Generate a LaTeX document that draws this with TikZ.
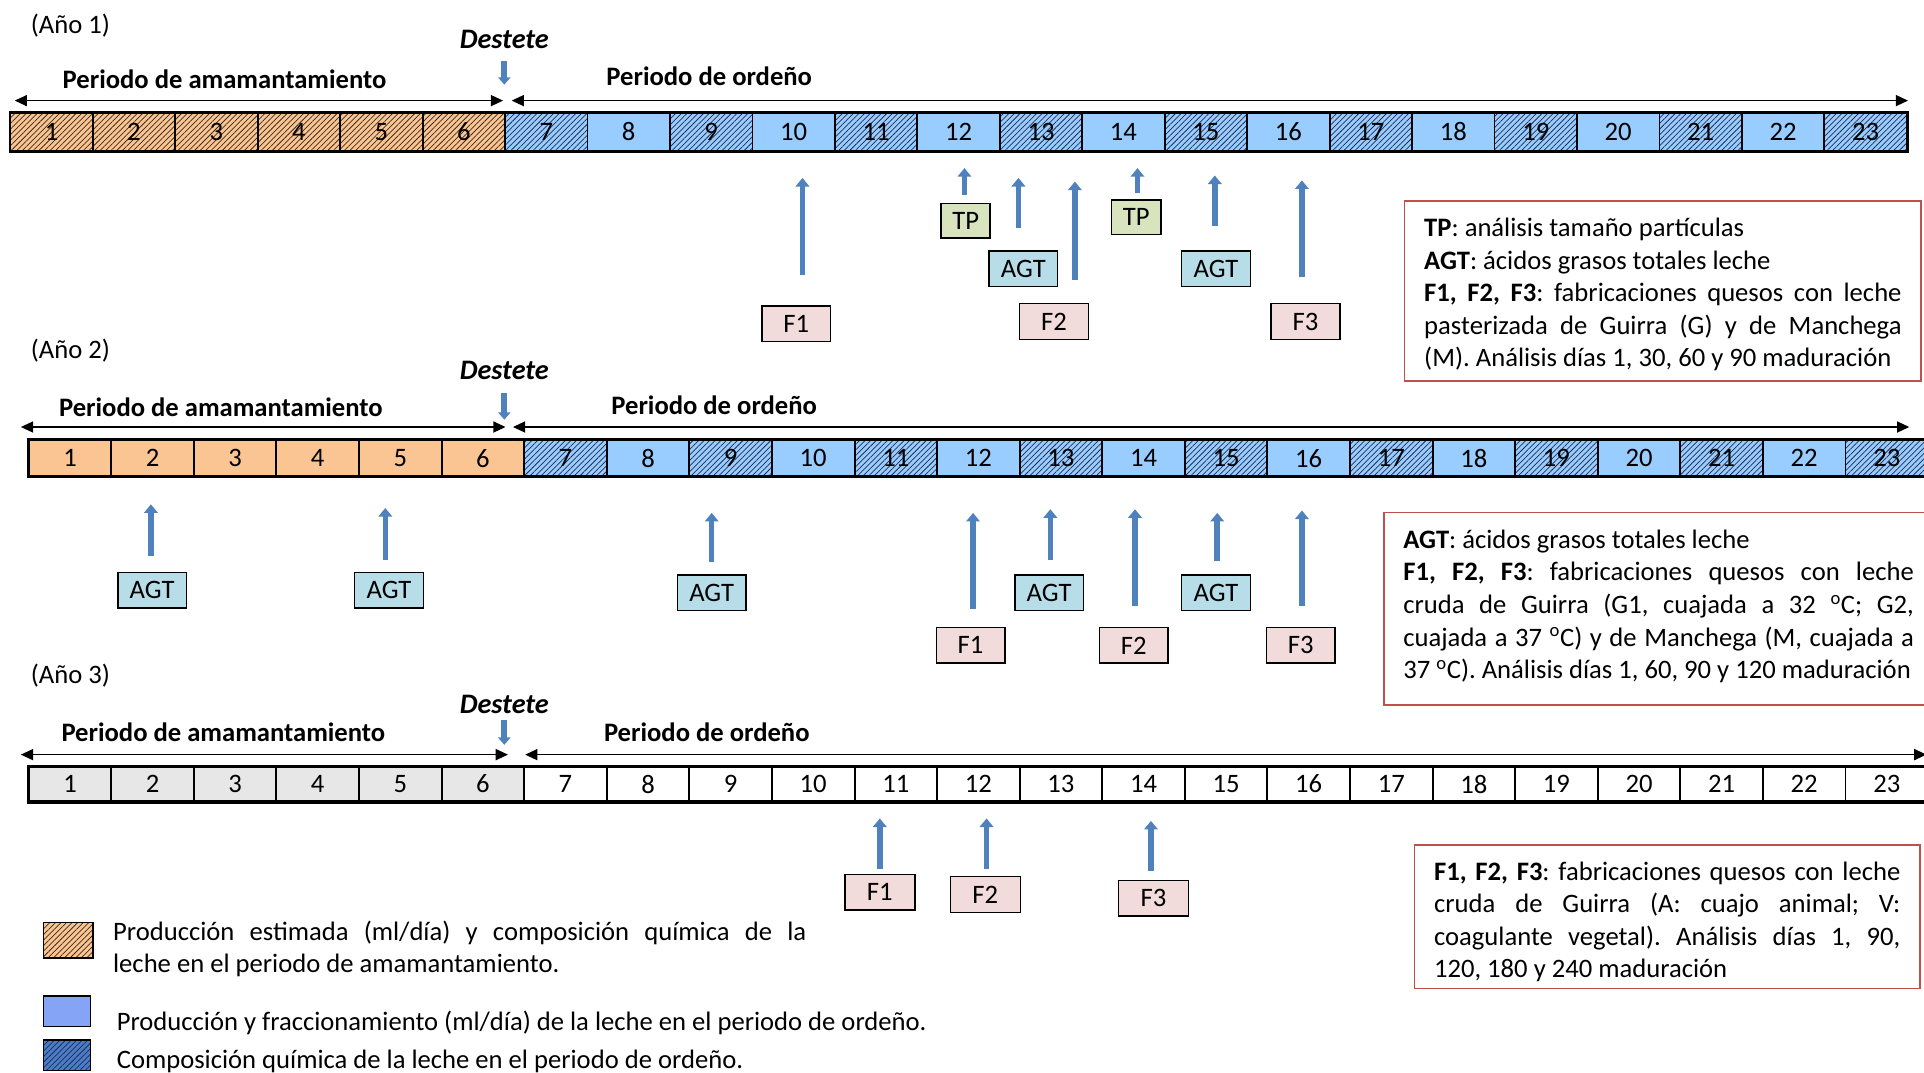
\documentclass[tikz,border=0pt]{standalone}
\usepackage{fontspec}
\setmainfont{Carlito}
\usetikzlibrary{arrows.meta,patterns.meta}
\setlength{\parindent}{0pt}
\frenchspacing
\definecolor{orangec}{HTML}{FAC592}
\definecolor{bluec}{HTML}{99CCFF}
\definecolor{hatchc}{HTML}{1F2D4F}
\definecolor{hatcho}{HTML}{3A2A1C}
\definecolor{greyc}{HTML}{E7E7E7}
\definecolor{arrowblue}{HTML}{4F81BD}
\definecolor{tpfill}{HTML}{D7E4BD}
\definecolor{agtfill}{HTML}{B7DEE8}
\definecolor{ffill}{HTML}{F2DCDB}
\definecolor{legred}{HTML}{C0504D}
\definecolor{swblue}{HTML}{86A4F6}
\definecolor{swdark}{HTML}{4A7CC8}
\newcommand{\myfs}{\fontsize{21.7}{26.5}\selectfont}
\tikzset{
  daycell/.style={draw=black, line width=1.5pt, minimum width=67.2pt, minimum height=#1, inner sep=0pt, font=\myfs},
  hatchblue/.style={preaction={fill=bluec}, pattern={Lines[angle=45,distance=3.2pt,line width=0.6pt]}, pattern color=hatchc},
  hatchorange/.style={preaction={fill=orangec}, pattern={Lines[angle=45,distance=3.2pt,line width=0.6pt]}, pattern color=hatcho},
  tagbox/.style={draw=black, line width=1.2pt, font=\myfs, minimum height=29pt, inner sep=0pt},
  tpbox/.style={tagbox, fill=tpfill, minimum width=40pt, minimum height=28pt},
  agtbox/.style={tagbox, fill=agtfill, minimum width=56pt},
  fbox/.style={tagbox, fill=ffill, minimum width=56pt},
  blockarrow/.style={draw=arrowblue, line width=4.5pt, -{Triangle[width=11pt,length=7pt]}},
  smallarrow/.style={draw=arrowblue, line width=5pt, -{Triangle[width=10pt,length=6pt]}},
  timeline/.style={draw=black, line width=1.3pt, {Triangle[width=9pt,length=10pt]}-{Triangle[width=9pt,length=10pt]}},
  hdr/.style={font=\myfs\bfseries, inner sep=0pt},
  dest/.style={font=\fontsize{23}{28}\selectfont\bfseries\itshape, inner sep=0pt},
  yearlbl/.style={font=\myfs, inner sep=0pt, anchor=west},
  legframe/.style={draw=legred, line width=1.4pt, inner sep=0pt, anchor=north west},
  legtext/.style={font=\myfs, align=justify, inner sep=0pt},
  legtxt/.style={font=\myfs, inner sep=0pt},
}
\begin{document}
\begin{tikzpicture}[x=1pt,y=-1pt]
\useasboundingbox (0,0) rectangle (1568,874);

% ================= Year 1 =================
\node[yearlbl] (y1) at (25,21) {(Año 1)};
\node[dest] (d1) at (411,32) {Destete};
\coordinate (d1a) at (411,50); \coordinate (d1b) at (411,69);
\draw[smallarrow] (d1a) -- (d1b);
\node[hdr] (am1) at (183,65) {Periodo de amamantamiento};
\node[hdr] (or1) at (578,62) {Periodo de ordeño};
\coordinate (l1a) at (12,82); \coordinate (l1b) at (410,82);
\coordinate (r1a) at (417,82); \coordinate (r1b) at (1555,82);
\draw[timeline] (l1a) -- (l1b);
\draw[timeline] (r1a) -- (r1b);
\foreach \i in {1,...,6}
  \node[daycell=31pt, hatchorange] (a\i) at ({8.4+67.2*(\i-0.5)},107.5) {\i};
\foreach \i in {7,9,...,23}
  \node[daycell=31pt, hatchblue] (a\i) at ({8.4+67.2*(\i-0.5)},107.5) {\i};
\foreach \i in {8,10,...,22}
  \node[daycell=31pt, fill=bluec] (a\i) at ({8.4+67.2*(\i-0.5)},107.5) {\i};
\draw[line width=2.2pt] (a1.north west) rectangle (a23.south east);

% markers year 1
\node[fbox] (f11) at (649,264) {F1};
\coordinate (f11a) at (654,224); \coordinate (f11b) at (654,145);
\draw[blockarrow] (f11a) -- (f11b);
\node[tpbox] (tp11) at (787,180) {TP};
\coordinate (tp11a) at (786,159); \coordinate (tp11b) at (786,137);
\draw[blockarrow] (tp11a) -- (tp11b);
\node[agtbox] (ag11) at (834,219) {AGT};
\coordinate (ag11a) at (830,186); \coordinate (ag11b) at (830,145);
\draw[blockarrow] (ag11a) -- (ag11b);
\node[fbox] (f12) at (859,262) {F2};
\coordinate (f12a) at (876,228); \coordinate (f12b) at (876,148);
\draw[blockarrow] (f12a) -- (f12b);
\node[tpbox] (tp12) at (926,177) {TP};
\coordinate (tp12a) at (927,157); \coordinate (tp12b) at (927,137);
\draw[blockarrow] (tp12a) -- (tp12b);
\node[agtbox] (ag12) at (991,219) {AGT};
\coordinate (ag12a) at (990,184); \coordinate (ag12b) at (990,143);
\draw[blockarrow] (ag12a) -- (ag12b);
\node[fbox] (f13) at (1064,262) {F3};
\coordinate (f13a) at (1061,226); \coordinate (f13b) at (1061,147);
\draw[blockarrow] (f13a) -- (f13b);

\node[legframe, minimum width=421pt, minimum height=147pt] (leg1) at (1144,163) {};
\node[legtext, text width=389pt] (leg1t) at ([yshift=-3pt]leg1.center) {%
\textbf{TP}: análisis tamaño partículas\newline
\textbf{AGT}: ácidos grasos totales leche\newline
\textbf{F1, F2, F3}: fabricaciones quesos con leche\linebreak
pasterizada de Guirra (G) y de Manchega\linebreak
(M). Análisis días 1, 30, 60 y 90 maduración};

% ================= Year 2 =================
\node[yearlbl] (y2) at (25,286) {(Año 2)};
\node[dest] (d2) at (411,302) {Destete};
\coordinate (d2a) at (411,320); \coordinate (d2b) at (411,342);
\draw[smallarrow] (d2a) -- (d2b);
\node[hdr] (am2) at (180,332) {Periodo de amamantamiento};
\node[hdr] (or2) at (582,330) {Periodo de ordeño};
\coordinate (l2a) at (17,348); \coordinate (l2b) at (412,348);
\coordinate (r2a) at (418,348); \coordinate (r2b) at (1556,348);
\draw[timeline] (l2a) -- (l2b);
\draw[timeline] (r2a) -- (r2b);
\foreach \i in {1,...,6}
  \node[daycell=29pt, fill=orangec] (b\i) at ({23.4+67.3*(\i-0.5)},373.5) {\i};
\foreach \i in {7,9,...,23}
  \node[daycell=29pt, hatchblue] (b\i) at ({23.4+67.3*(\i-0.5)},373.5) {\i};
\foreach \i in {8,10,...,22}
  \node[daycell=29pt, fill=bluec] (b\i) at ({23.4+67.3*(\i-0.5)},373.5) {\i};
\draw[line width=2.2pt] (b1.north west) rectangle (b23.south east);

\node[agtbox] (ag21) at (124,481) {AGT};
\coordinate (ag21a) at (123,453); \coordinate (ag21b) at (123,411);
\draw[blockarrow] (ag21a) -- (ag21b);
\node[agtbox] (ag22) at (317,481) {AGT};
\coordinate (ag22a) at (314,456); \coordinate (ag22b) at (314,414);
\draw[blockarrow] (ag22a) -- (ag22b);
\node[agtbox] (ag23) at (580,483) {AGT};
\coordinate (ag23a) at (580,458); \coordinate (ag23b) at (580,418);
\draw[blockarrow] (ag23a) -- (ag23b);
\node[fbox] (f21) at (791,526) {F1};
\coordinate (f21a) at (793,496); \coordinate (f21b) at (793,418);
\draw[blockarrow] (f21a) -- (f21b);
\node[agtbox] (ag24) at (855,483) {AGT};
\coordinate (ag24a) at (856,456); \coordinate (ag24b) at (856,415);
\draw[blockarrow] (ag24a) -- (ag24b);
\node[fbox] (f22) at (924,526) {F2};
\coordinate (f22a) at (925,494); \coordinate (f22b) at (925,415);
\draw[blockarrow] (f22a) -- (f22b);
\node[agtbox] (ag25) at (991,483) {AGT};
\coordinate (ag25a) at (992,457); \coordinate (ag25b) at (992,418);
\draw[blockarrow] (ag25a) -- (ag25b);
\node[fbox] (f23) at (1060,526) {F3};
\coordinate (f23a) at (1061,494); \coordinate (f23b) at (1061,416);
\draw[blockarrow] (f23a) -- (f23b);

\node[legframe, minimum width=448pt, minimum height=157pt] (leg2) at (1127,417) {};
\node[legtext, text width=416pt] (leg2t) at ([yshift=2pt]leg2.center) {%
\textbf{AGT}: ácidos grasos totales leche\newline
\textbf{F1, F2, F3}: fabricaciones quesos con leche\linebreak
cruda de Guirra (G1, cuajada a 32 \textsuperscript{o}C; G2,\linebreak
cuajada a 37 \textsuperscript{o}C) y de Manchega (M, cuajada a\linebreak
37 \textsuperscript{o}C). Análisis días 1, 60, 90 y 120 maduración};

% ================= Year 3 =================
\node[yearlbl] (y3) at (25,551) {(Año 3)};
\node[dest] (d3) at (411,574) {Destete};
\coordinate (d3a) at (411,587); \coordinate (d3b) at (411,607);
\draw[smallarrow] (d3a) -- (d3b);
\node[hdr] (am3) at (182,597) {Periodo de amamantamiento};
\node[hdr] (or3) at (576,597) {Periodo de ordeño};
\coordinate (l3a) at (17,615); \coordinate (l3b) at (414,615);
\coordinate (r3a) at (428,615); \coordinate (r3b) at (1570,615);
\draw[timeline] (l3a) -- (l3b);
\draw[timeline] (r3a) -- (r3b);
\foreach \i in {1,...,6}
  \node[daycell=28pt, fill=greyc] (c\i) at ({23.4+67.3*(\i-0.5)},639) {\i};
\foreach \i in {7,...,23}
  \node[daycell=28pt, fill=white] (c\i) at ({23.4+67.3*(\i-0.5)},639) {\i};
\draw[line width=2.2pt] (c1.north west) rectangle (c23.south east);

\node[fbox, minimum width=57pt] (f31) at (717,727) {F1};
\coordinate (f31a) at (717,708); \coordinate (f31b) at (717,667);
\draw[blockarrow] (f31a) -- (f31b);
\node[fbox, minimum width=57pt] (f32) at (803,729) {F2};
\coordinate (f32a) at (804,708); \coordinate (f32b) at (804,667);
\draw[blockarrow] (f32a) -- (f32b);
\node[fbox, minimum width=57pt] (f33) at (940,732) {F3};
\coordinate (f33a) at (938,710); \coordinate (f33b) at (938,669);
\draw[blockarrow] (f33a) -- (f33b);

\node[legframe, minimum width=412pt, minimum height=117pt] (leg3) at (1152,688) {};
\node[legtext, text width=380pt] (leg3t) at ([yshift=-4pt]leg3.center) {%
\textbf{F1, F2, F3}: fabricaciones quesos con leche\linebreak
cruda de Guirra (A: cuajo animal; V:\linebreak
coagulante vegetal). Análisis días 1, 90,\linebreak
120, 180 y 240 maduración};

% ================= Legend =================
\node[draw=black, line width=1.2pt, hatchorange, minimum width=40pt, minimum height=29pt, inner sep=0pt, anchor=north west] (sw1) at (35,751) {};
\node[legtxt, anchor=north west, text width=565pt, align=justify] (lt1) at (92,750) {%
Producción estimada (ml/día) y composición química de la\linebreak
leche en el periodo de amamantamiento.};
\node[draw=black, line width=1.2pt, fill=swblue, minimum width=38pt, minimum height=25pt, inner sep=0pt, anchor=north west] (sw2) at (35,811) {};
\node[legtxt, anchor=west] (lt2) at (95,834) {Producción y fraccionamiento (ml/día) de la leche en el periodo de ordeño.};
\node[draw=black, line width=1.2pt, preaction={fill=swdark}, pattern={Lines[angle=45,distance=3.2pt,line width=0.6pt]}, pattern color=hatchc, minimum width=38pt, minimum height=25pt, inner sep=0pt, anchor=north west] (sw3) at (35,847) {};
\node[legtxt, anchor=west] (lt3) at (95,865) {Composición química de la leche en el periodo de ordeño.};
\end{tikzpicture}
\end{document}
